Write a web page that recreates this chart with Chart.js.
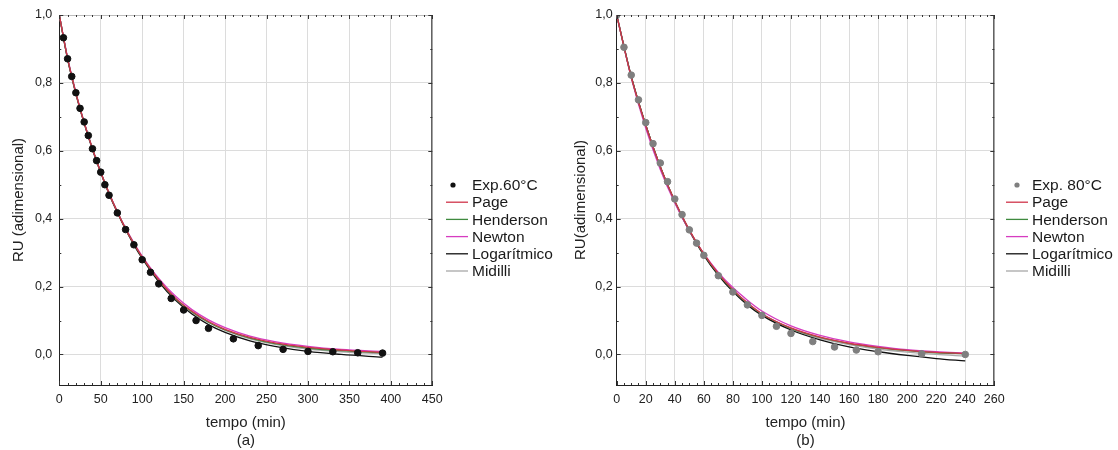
<!DOCTYPE html>
<html>
<head>
<meta charset="utf-8">
<script src="https://cdn.jsdelivr.net/npm/chart.js@4/dist/chart.umd.min.js"></script>
<style>
  body { margin: 0; background: #fff; }
  #wrapA { position: absolute; left: 0; top: 0; }
  #wrapB { position: absolute; left: 570px; top: 0; }
</style>
</head>
<body>
<div id="wrapA"><canvas id="chartA" width="570" height="450"></canvas></div>
<div id="wrapB"><canvas id="chartB" width="548" height="450"></canvas></div>
<script>
// (a) 60°C
const expTimeA = [5,10,15,20,25,30,35,40,45,50,55,60,70,80,90,100,110,120,135,150,165,180,210,240,270,300,330,360,390];
const expA = [0.933,0.871,0.819,0.771,0.725,0.685,0.645,0.606,0.571,0.537,0.500,0.469,0.417,0.368,0.323,0.279,0.242,0.208,0.165,0.131,0.100,0.077,0.046,0.026,0.015,0.009,0.008,0.005,0.004];
const fitTimeA = [0,10,20,30,40,50,60,70,80,90,100,120,140,160,180,200,230,260,300,340,390];
const pageA = [1.000,0.872,0.770,0.683,0.606,0.537,0.475,0.420,0.370,0.326,0.287,0.220,0.166,0.127,0.097,0.074,0.050,0.034,0.021,0.013,0.006];
const hendersonA = [1.000,0.872,0.770,0.683,0.606,0.537,0.475,0.420,0.370,0.326,0.286,0.219,0.165,0.126,0.095,0.072,0.048,0.032,0.019,0.011,0.005];
const newtonA = [1.000,0.875,0.772,0.684,0.606,0.537,0.476,0.421,0.372,0.329,0.290,0.224,0.172,0.132,0.102,0.079,0.054,0.038,0.024,0.015,0.009];
const logA = [1.000,0.870,0.768,0.681,0.604,0.535,0.473,0.418,0.368,0.323,0.283,0.214,0.160,0.119,0.088,0.065,0.040,0.024,0.009,0.000,-0.008];
const midilliA = [1.000,0.871,0.769,0.682,0.605,0.536,0.474,0.419,0.369,0.325,0.285,0.218,0.164,0.124,0.094,0.071,0.046,0.030,0.016,0.008,0.002];

// (b) 80°C
const expTimeB = [0,5,10,15,20,25,30,35,40,45,50,55,60,70,80,90,100,110,120,135,150,165,180,210,240];
const expB = [1.000,0.905,0.823,0.750,0.683,0.621,0.564,0.509,0.458,0.412,0.367,0.328,0.292,0.232,0.184,0.146,0.115,0.083,0.062,0.038,0.022,0.013,0.008,0.002,0.000];
const fitTimeB = [0,10,20,30,40,50,60,70,80,90,100,120,140,160,180,200,220,240];
const pageB = [1.000,0.818,0.675,0.553,0.452,0.367,0.296,0.238,0.191,0.152,0.120,0.078,0.051,0.033,0.021,0.012,0.006,0.003];
const hendersonB = [1.000,0.818,0.675,0.553,0.452,0.366,0.295,0.237,0.190,0.151,0.119,0.077,0.050,0.032,0.020,0.011,0.005,0.002];
const newtonB = [1.000,0.815,0.666,0.545,0.446,0.364,0.297,0.242,0.197,0.160,0.128,0.084,0.056,0.037,0.024,0.014,0.008,0.004];
const logB = [1.000,0.820,0.676,0.553,0.450,0.364,0.292,0.233,0.185,0.146,0.115,0.072,0.043,0.022,0.008,-0.003,-0.012,-0.019];
const midilliB = [1.000,0.819,0.675,0.552,0.450,0.365,0.294,0.236,0.188,0.149,0.117,0.075,0.047,0.029,0.016,0.007,0.000,-0.005];

const yTicks = [0, 0.2, 0.4, 0.6, 0.8, 1.0];
const modelNames = ['Page', 'Henderson', 'Newton', 'Logarítmico', 'Midilli'];
const modelColors = ['#d0344a', '#3f8a3f', '#d63cc0', '#111111', '#a8a8a8'];

const FONT = "'Liberation Sans', Arial, sans-serif";

function pts(xs, ys) {
    return xs.map((x, i) => ({x: x, y: ys[i]}));
}

// frame on top/right + small inward ticks
const framePlugin = {
    id: 'frame',
    afterDraw(chart, args, opts) {
        const c = chart.ctx, a = chart.chartArea;
        const xs = chart.scales.x, ys = chart.scales.y;
        c.save();
        c.lineWidth = 1;
        c.strokeStyle = '#bdbdbd';
        c.beginPath(); c.moveTo(a.left, a.top + 0.5); c.lineTo(a.right, a.top + 0.5); c.stroke();
        c.strokeStyle = '#222';
        c.beginPath(); c.moveTo(a.right - 0.5, a.top); c.lineTo(a.right - 0.5, a.bottom); c.stroke();
        c.strokeStyle = '#333';
        c.beginPath();
        for (let v = xs.min; v <= xs.max + 1e-9; v += opts.xMinor) {
            const px = Math.round(xs.getPixelForValue(v)) + 0.5;
            const major = Math.abs(v / opts.xMajor - Math.round(v / opts.xMajor)) < 1e-6;
            const l = major ? 4 : 2;
            c.moveTo(px, a.bottom); c.lineTo(px, a.bottom - l);
            c.moveTo(px, a.top); c.lineTo(px, a.top + l);
        }
        for (let v = -0.1; v <= 1.0001; v += 0.1) {
            const py = ys.getPixelForValue(v);
            if (py > a.bottom || py < a.top - 0.5) continue;
            const y = Math.round(py) + 0.5;
            const major = Math.round(v * 10) % 2 === 0;
            const l = major ? 4 : 2;
            c.moveTo(a.left, y); c.lineTo(a.left + l, y);
            c.moveTo(a.right, y); c.lineTo(a.right - l, y);
        }
        c.stroke();
        c.restore();
    }
};

// legend to the right of the plot, at fixed rows
const sideLegend = {
    id: 'sideLegend',
    afterDraw(chart, args, opts) {
        const c = chart.ctx;
        c.save();
        c.font = '15.5px ' + FONT;
        c.textBaseline = 'middle';
        chart.data.datasets.forEach((ds, i) => {
            const y = opts.y + i * opts.row;
            if (ds.showLine === false) {
                c.fillStyle = ds.backgroundColor;
                c.beginPath(); c.arc(opts.x + opts.dotX, y, 2.6, 0, Math.PI * 2); c.fill();
            } else {
                c.strokeStyle = ds.borderColor;
                c.lineWidth = 1.3;
                c.beginPath(); c.moveTo(opts.x, y); c.lineTo(opts.x + opts.len, y); c.stroke();
            }
            c.fillStyle = '#1a1a1a';
            c.fillText(ds.label, opts.x + opts.len + 4, y + 1);
        });
        c.restore();
    }
};

function makeChart(id, cfg) {
    const datasets = [{
        label: cfg.expLabel,
        data: pts(cfg.expTime, cfg.exp),
        showLine: false,
        pointRadius: 3.3,
        pointBackgroundColor: cfg.dotColor,
        pointBorderColor: cfg.dotColor,
        backgroundColor: cfg.dotColor,
        borderColor: cfg.dotColor
    }];
    cfg.fits.forEach((ys, i) => {
        datasets.push({
            label: modelNames[i],
            data: pts(cfg.fitTime, ys),
            borderColor: modelColors[i],
            borderWidth: 1.3,
            pointRadius: 0,
            cubicInterpolationMode: 'monotone',
            fill: false
        });
    });
    return new Chart(document.getElementById(id).getContext('2d'), {
        type: 'line',
        data: {datasets: datasets},
        options: {
            responsive: false,
            animation: false,
            layout: {padding: {left: 0, top: 15, right: cfg.padRight, bottom: 0}},
            plugins: {
                legend: {display: false},
                tooltip: {enabled: false},
                frame: {xMinor: cfg.xMinor, xMajor: cfg.xStep},
                sideLegend: {x: cfg.legendX, y: 185, row: 17.2, len: 22, dotX: cfg.dotX}
            },
            scales: {
                x: {
                    type: 'linear',
                    min: 0,
                    max: cfg.xMax,
                    afterFit: s => { s.height = 65; },
                    ticks: {stepSize: cfg.xStep, padding: 7, color: '#222', font: {family: FONT, size: 12.5}},
                    grid: {color: '#dcdcdc', drawTicks: false},
                    border: {color: '#222', width: 1},
                    title: {
                        display: true,
                        text: ['tempo (min)', cfg.tag],
                        color: '#222',
                        font: {family: FONT, size: 15, lineHeight: 1.15},
                        padding: {top: 0, bottom: 1}
                    }
                },
                y: {
                    min: -0.09,
                    max: 1.0,
                    afterFit: s => { s.width = cfg.yWidth; },
                    afterBuildTicks: s => { s.ticks = yTicks.map(v => ({value: v})); },
                    ticks: {
                        padding: cfg.yPad,
                        color: '#222',
                        font: {family: FONT, size: 12.5},
                        callback: v => v.toFixed(1).replace('.', ',')
                    },
                    grid: {color: '#dcdcdc', drawTicks: false},
                    border: {color: '#222', width: 1},
                    title: {
                        display: true,
                        text: cfg.yTitle,
                        color: '#222',
                        font: {family: FONT, size: 15},
                        padding: {top: cfg.yTitlePad, bottom: 0}
                    }
                }
            }
        },
        plugins: [framePlugin, sideLegend]
    });
}

const chartA = makeChart('chartA', {
    expLabel: 'Exp.60°C', expTime: expTimeA, exp: expA, dotColor: '#111111',
    fitTime: fitTimeA, fits: [pageA, hendersonA, newtonA, logA, midilliA],
    xMax: 450, xStep: 50, xMinor: 10, tag: '(a)',
    yTitle: 'RU (adimensional)', yWidth: 59.3, yPad: 7, yTitlePad: 9.6,
    padRight: 137.7, legendX: 446, dotX: 7
});

const chartB = makeChart('chartB', {
    expLabel: 'Exp. 80°C', expTime: expTimeB, exp: expB, dotColor: '#7f7f7f',
    fitTime: fitTimeB, fits: [pageB, hendersonB, newtonB, logB, midilliB],
    xMax: 260, xStep: 20, xMinor: 5, tag: '(b)',
    yTitle: 'RU(adimensional)', yWidth: 46.7, yPad: 4, yTitlePad: 1.6,
    padRight: 123.7, legendX: 436, dotX: 11
});
</script>
</body>
</html>
